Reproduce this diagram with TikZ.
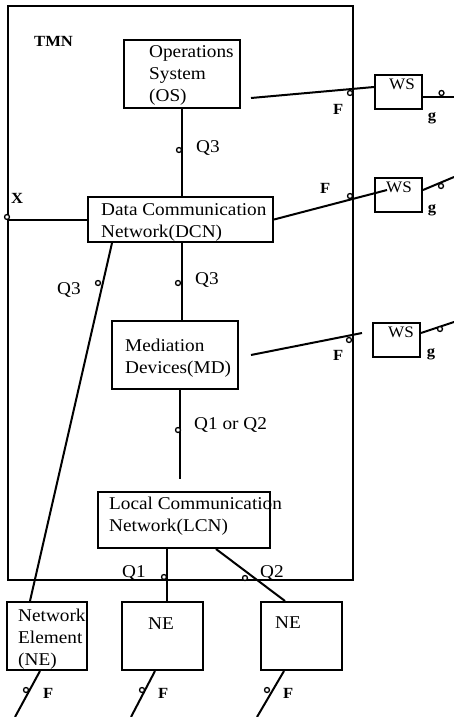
\documentclass[tikz,border=0pt]{standalone}
\usepackage{fontspec}
\setmainfont{Liberation Serif}[FakeStretch=1.07]
\usetikzlibrary{positioning,calc}

\tikzset{
  box/.style={draw,line width=2pt,inner sep=0pt},
  txt/.style={anchor=north west,inner sep=0pt,align=left,font=\fontsize{18}{22}\selectfont},
  wstxt/.style={anchor=north west,inner sep=0pt,font=\fontsize{16}{18}\selectfont},
  lbl/.style={anchor=north west,inner sep=0pt,font=\fontsize{18}{22}\selectfont},
  iface/.style={inner sep=0pt,font=\bfseries\fontsize{15.5}{17}\selectfont},
  link/.style={line width=2pt},
  port/.style={circle,draw,line width=1.3pt,fill=white,inner sep=0pt,minimum size=5pt}
}

\begin{document}
\begin{tikzpicture}[x=1pt,y=1pt]
\useasboundingbox (0,0) rectangle (454,-717);

% frame and blocks
\node[box,minimum width=345pt,minimum height=574pt] (tmn) at (180.5,-293) {};
\node[iface,anchor=north west] (tmnlbl) at (34,-36) {TMN};
\node[box,minimum width=116pt,minimum height=68pt] (os) at (182,-74) {};
\node[box,minimum width=185pt,minimum height=45pt] (dcn) at (180.5,-219.5) {};
\node[box,minimum width=126pt,minimum height=68pt] (md) at (175,-355) {};
\node[box,minimum width=172pt,minimum height=56pt] (lcn) at (184,-520) {};
\node[box,minimum width=80pt,minimum height=68pt] (ne1) at (47,-636) {};
\node[box,minimum width=81pt,minimum height=68pt,right=33pt of ne1] (ne2) {};
\node[box,minimum width=81pt,minimum height=68pt,right=56pt of ne2] (ne3) {};
\node[box,minimum width=47pt,minimum height=34pt] (ws1) at (398.5,-92) {};
\node[box,minimum width=47pt,minimum height=34pt,below=67pt of ws1] (ws2) {};
\node[box,minimum width=47pt,minimum height=34pt] (ws3) at (396.5,-340) {};

% block texts
\node[txt] (ostxt) at ([shift={(26,-6)}]os.north west) {Operations\\System\\(OS)};
\node[txt] (dcntxt) at ([shift={(14,-7)}]dcn.north west) {Data Communication\\Network(DCN)};
\node[txt] (mdtxt) at ([shift={(14,-19)}]md.north west) {Mediation\\Devices(MD)};
\node[txt] (lcntxt) at ([shift={(12,-6)}]lcn.north west) {Local Communication\\Network(LCN)};
\node[txt] (ne1txt) at ([shift={(12,-8)}]ne1.north west) {Network\\Element\\(NE)};
\node[txt] (ne2txt) at ([shift={(27,-17)}]ne2.north west) {NE};
\node[txt] (ne3txt) at ([shift={(15,-16)}]ne3.north west) {NE};
\node[wstxt] (ws1txt) at ([shift={(15,-5)}]ws1.north west) {WS};
\node[wstxt] (ws2txt) at ([shift={(12,-5)}]ws2.north west) {WS};
\node[wstxt] (ws3txt) at ([shift={(16,-5)}]ws3.north west) {WS};

% free ends
\coordinate (osout) at ([shift={(10,11)}]os.south east);
\coordinate (mdout) at ([xshift=12]md.east);
\coordinate (lcnin) at ([shift={(-4,12)}]lcn.north);
\coordinate (g1) at (454,-97);
\coordinate (g2) at (454,-177);
\coordinate (g3) at (454,-322);
\coordinate (f1) at (15,-717);
\coordinate (f2) at (131,-717);
\coordinate (f3) at (257,-717);

% connectors
\draw[link] (os.south) -- (os.south |- dcn.north);
\draw[link] (dcn.west) -- (dcn.west -| tmn.west);
\draw[link] (osout) -- ([yshift=5]ws1.west);
\draw[link] ([yshift=-5]ws1.east) -- (g1);
\draw[link] (dcn.east) -- ([shift={(13,5)}]ws2.west);
\draw[link] ([yshift=5]ws2.east) -- (g2);
\draw[link] ([xshift=1.5]dcn.south) -- ([xshift=1.5]dcn.south |- md.north);
\draw[link] ([xshift=-68.5]dcn.south) -- ([xshift=-17]ne1.north);
\draw[link] (mdout) -- ([shift={(-10,7)}]ws3.west);
\draw[link] ([yshift=7]ws3.east) -- (g3);
\draw[link] ([xshift=5]md.south) -- (lcnin);
\draw[link] ([xshift=-17]lcn.south) -- ([xshift=-17]lcn.south |- ne2.north);
\draw[link] ([xshift=-55]lcn.south east) -- ([xshift=25]ne3.north west);
\draw[link] ([xshift=-7]ne1.south) -- (f1);
\draw[link] ([xshift=-7.5]ne2.south) -- (f2);
\draw[link] ([xshift=-17.5]ne3.south) -- (f3);

% interface points
\foreach \p [count=\i] in {(179,-150),(7,-217),(350,-93),(441.5,-93),(350,-196),(441,-186),
  (178,-283),(98,-283),(349,-340),(440,-329),(178,-430),(164,-577),(245,-578),
  (26,-690),(142,-690),(267,-690)}
  \node[port] (pt\i) at \p {};

% interface labels
\node[lbl] (q3a) at (196,-140) {Q3};
\node[lbl] (q3b) at (195,-272) {Q3};
\node[lbl] (q3c) at (57,-282) {Q3};
\node[lbl] (q12) at (194,-417) {Q1 or Q2};
\node[lbl] (q1) at (122,-565) {Q1};
\node[lbl] (q2) at (260,-565) {Q2};
\node[iface,anchor=north west] (xlbl) at (11,-193) {X};
\node[iface,anchor=north west] (fa) at (333,-104) {F};
\node[iface,anchor=north west] (fb) at (320,-183) {F};
\node[iface,anchor=north west] (fc) at (333,-350) {F};
\node[iface] (ga) at (432,-118) {g};
\node[iface] (gb) at (432,-210) {g};
\node[iface] (gc) at (431,-354) {g};
\node[iface,anchor=north west] (fd) at (43,-688) {F};
\node[iface,anchor=north west] (fe) at (158,-688) {F};
\node[iface,anchor=north west] (ff) at (283,-688) {F};
\end{tikzpicture}
\end{document}
